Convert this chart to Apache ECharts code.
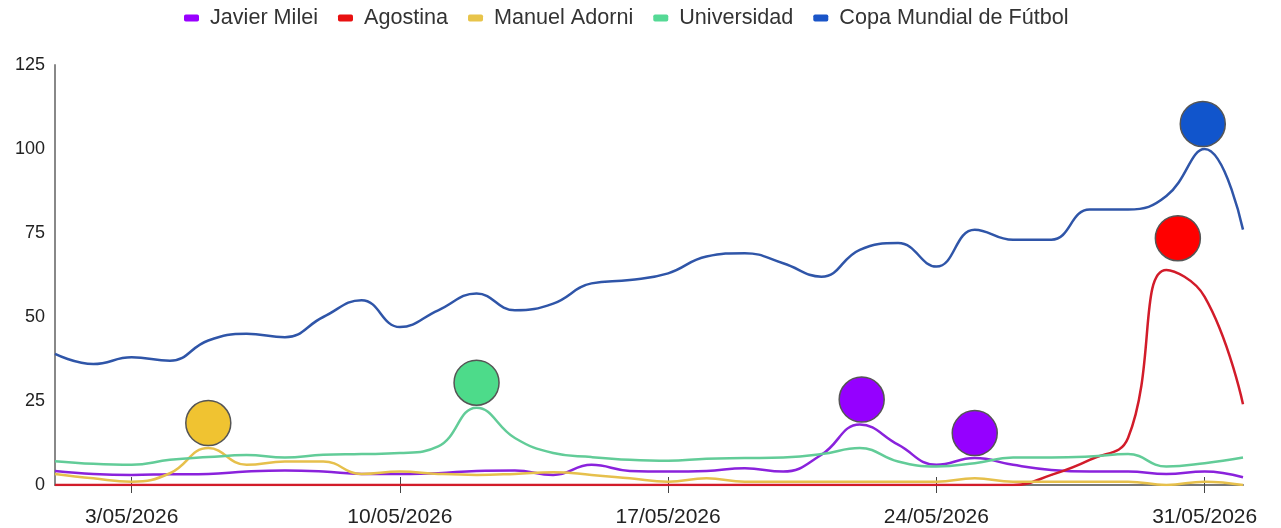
<!DOCTYPE html>
<html>
<head>
<meta charset="utf-8">
<script src="https://cdn.jsdelivr.net/npm/echarts@6/dist/echarts.min.js"></script>
<style>
html,body{margin:0;padding:0;background:#fff;}
#chart{width:1281px;height:528px;}
</style>
</head>
<body>
<div id="chart"></div>
<script>
// Daily dates (index 0 = 1/05/2026)
const dates = ['1/05/2026','2/05/2026','3/05/2026','4/05/2026','5/05/2026','6/05/2026','7/05/2026','8/05/2026','9/05/2026','10/05/2026',
  '11/05/2026','12/05/2026','13/05/2026','14/05/2026','15/05/2026','16/05/2026','17/05/2026','18/05/2026','19/05/2026','20/05/2026',
  '21/05/2026','22/05/2026','23/05/2026','24/05/2026','25/05/2026','26/05/2026','27/05/2026','28/05/2026','29/05/2026','30/05/2026',
  '31/05/2026','1/06/2026'];
const tickLabels = ['3/05/2026','10/05/2026','17/05/2026','24/05/2026','31/05/2026'];
const yTicks = [0,25,50,75,100,125];

const milei    = [4.2,3.3,3.0,3.2,3.3,4.0,4.3,4.0,3.3,3.3, 3.5,4.2,4.3,3.0,6.0,4.2,4.0,4.2,5.0,4.0, 9,18,12,6.0,8.0,6.0,4.5,4.0,4.0,3.3, 4.0,2.3];
const agostina = [0,0,0,0,0,0,0,0,0,0, 0,0,0,0,0,0,0,0,0,0, 0,0,0,0,0,0,3,7.5,14,64, 56,24];
const adorni   = [3.3,2.0,1.0,3.5,11,6.0,7.0,7.0,3.3,4.0, 3.3,3.0,3.3,3.8,3.0,2.0,1.0,2.0,1.0,1.0, 1.0,1.0,1.0,1.0,2.0,1.0,1.0,1.0,1.0,0, 1.0,0];
const univ     = [7.1,6.3,6.0,7.5,8.3,8.9,8.2,9.0,9.2,9.5, 11.5,23,14,9.5,8.3,7.5,7.2,7.8,8.0,8.2, 9.2,11,7,5.5,6.5,8.2,8.2,8.5,9.2,5.5, 6.5,8.2];
const copa     = [39,36,38,37,43,45,44,50,55,47, 52,57,52,54,60,61,63,68,69,66, 62,70,72,65,76,73,73,82,82,86, 100,76];

// Peak markers: [day index, value]
const peakMilei    = [[21.05,18],[24,8]];
const peakAgostina = [[29.3,66]];
const peakAdorni   = [[4,11]];
const peakUniv     = [[11,23]];
const peakCopa     = [[29.95,100]];

const names = ['Javier Milei','Agostina','Manuel Adorni','Universidad','Copa Mundial de Fútbol'];
const lineColors = ['#8a22dc','#d21c2a','#e6c04c','#62cc98','#2f55a8'];
const legendColors = ['#9900ff','#e81010','#e8c44a','#55d995','#1a55c8'];
const markColors = ['#9500ff','#ff0000','#f0c331','#4ddb8a','#1155cc'];
const values = [milei, agostina, adorni, univ, copa];
const peaks = [peakMilei, peakAgostina, peakAdorni, peakUniv, peakCopa];

const tickIdx = tickLabels.map(t => dates.indexOf(t));

const chart = echarts.init(document.getElementById('chart'), null, {renderer:'canvas'});
const FONT = 'Liberation Sans, Arial, sans-serif';

const series = names.map((n, k) => ({
  name: n,
  type: 'line',
  xAxisIndex: 0,
  smooth: 0.45,
  symbol: 'none',
  lineStyle: {color: lineColors[k], width: 2.5},
  itemStyle: {color: lineColors[k]},
  data: values[k].map((v, i) => [i, v]),
  z: 2,
  markPoint: {
    silent: true,
    symbol: 'circle',
    symbolSize: 45,
    symbolOffset: [0, -25],
    label: {show: false},
    itemStyle: {color: markColors[k], borderColor: '#555', borderWidth: 1.5},
    data: peaks[k].map(p => ({coord: p}))
  }
}));

chart.setOption({
  animation: false,
  backgroundColor: '#fff',
  legend: {
    top: 2,
    left: 179,
    itemGap: 20,
    itemWidth: 15,
    itemHeight: 7,
    icon: 'roundRect',
    textStyle: {fontFamily: FONT, fontSize: 21.6, color: '#333', padding: [0,0,0,6]},
    data: names.map((n, k) => ({name: n, itemStyle: {color: legendColors[k]}}))
  },
  grid: {left: 55, right: 38, top: 65, bottom: 43, containLabel: false},
  xAxis: [{
    type: 'value',
    min: 0, max: dates.length - 1,
    axisLine: {show: true, lineStyle: {color: '#777', width: 2}},
    axisTick: {show: true, inside: true, length: 8, customValues: tickIdx, lineStyle: {color: '#444', width: 1}},
    axisLabel: {customValues: tickIdx, formatter: v => dates[Math.round(v)], fontFamily: FONT, fontSize: 21, color: '#222', margin: 22},
    splitLine: {show: false}
  },{
    type: 'value',
    min: 0, max: dates.length - 1,
    position: 'bottom',
    axisLine: {show: false},
    axisTick: {show: true, inside: false, length: 8, customValues: tickIdx, lineStyle: {color: '#444', width: 1}},
    axisLabel: {show: false},
    splitLine: {show: false}
  }],
  yAxis: {
    type: 'value',
    min: 0, max: 125, interval: 25,
    axisLine: {show: true, lineStyle: {color: '#888', width: 2}},
    axisTick: {show: false},
    axisLabel: {fontFamily: FONT, fontSize: 18, color: '#222', margin: 10},
    splitLine: {show: false}
  },
  series: series
});
</script>
</body>
</html>
